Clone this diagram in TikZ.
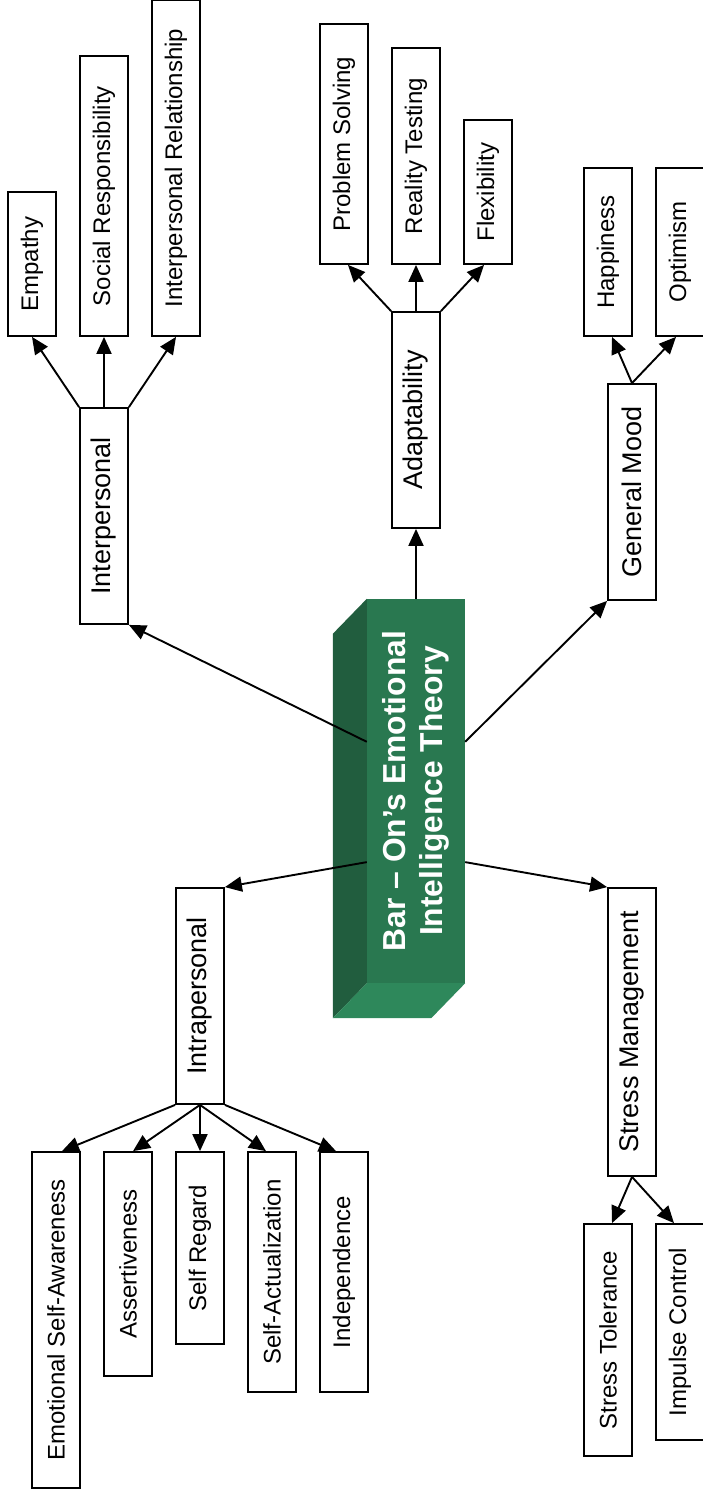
\documentclass[tikz,border=0pt]{standalone}
\usepackage{fontspec}
\setmainfont{Liberation Sans}
\usetikzlibrary{arrows.meta,calc}
\definecolor{facefront}{RGB}{41,120,80}
\definecolor{faceside}{RGB}{33,93,62}
\definecolor{facebottom}{RGB}{46,136,91}
\begin{document}
\begin{tikzpicture}[x=1pt,y=-1pt,
  box/.style={draw, line width=1.8pt, fill=white, minimum width=48pt, inner sep=0pt},
  sub/.style={box, font=\fontsize{24}{28}\selectfont},
  top/.style={box, font=\fontsize{27}{31}\selectfont},
  conn/.style={line width=1.9pt, -{Triangle[length=17pt,width=15pt]}}]
\useasboundingbox (0,0) rectangle (702,1494);

% central block: front face with side and bottom faces
\node[fill=facefront, minimum width=98pt, minimum height=384pt, inner sep=0pt] (front) at (416,791) {};
\fill[faceside] (front.north west) -- ++(-34,35) -- ($(front.south west)+(-34,35)$) -- (front.south west) -- cycle;
\fill[facebottom] (front.south west) -- (front.south east) -- ++(-34,35) -- ($(front.south west)+(-34,35)$) -- cycle;
\node[rotate=90, text=white, align=center, font=\bfseries\fontsize{31.8}{37}\selectfont] (title) at (front.center) {Bar – On’s Emotional\\Intelligence Theory};

\coordinate (fl1) at ($(front.north west)!0.372!(front.south west)$);
\coordinate (fl2) at ($(front.north west)!0.685!(front.south west)$);
\coordinate (fr1) at ($(front.north east)!0.372!(front.south east)$);
\coordinate (fr2) at ($(front.north east)!0.685!(front.south east)$);

% Interpersonal branch
\node[sub, minimum height=144pt] (emp) at (32,264) {\rotatebox{90}{Empathy}};
\node[sub, minimum height=280pt] (soc) at (104,196) {\rotatebox{90}{Social Responsibility}};
\node[sub, minimum height=336pt] (irel) at (176,168) {\rotatebox{90}{Interpersonal Relationship}};
\node[top, minimum height=216pt] (inter) at (104,516) {\rotatebox{90}{Interpersonal}};

% Adaptability branch
\node[sub, minimum height=240pt] (prob) at (344,144) {\rotatebox{90}{Problem Solving}};
\node[sub, minimum height=216pt] (real) at (416,156) {\rotatebox{90}{Reality Testing}};
\node[sub, minimum height=144pt] (flex) at (488,192) {\rotatebox{90}{Flexibility}};
\node[top, minimum height=216pt] (adapt) at (416,420) {\rotatebox{90}{Adaptability}};

% General Mood branch
\node[sub, minimum height=168pt] (happy) at (608,252) {\rotatebox{90}{Happiness}};
\node[sub, minimum height=168pt] (optim) at (680,252) {\rotatebox{90}{Optimism}};
\node[top, minimum height=216pt] (mood) at (632,492) {\rotatebox{90}{General Mood}};

% Intrapersonal branch
\node[top, minimum height=216pt] (intra) at (200,996) {\rotatebox{90}{Intrapersonal}};
\node[sub, minimum height=336pt] (esa) at (56,1320) {\rotatebox{90}{Emotional Self-Awareness}};
\node[sub, minimum height=224pt] (asse) at (128,1264) {\rotatebox{90}{Assertiveness}};
\node[sub, minimum height=192pt] (sreg) at (200,1248) {\rotatebox{90}{Self Regard}};
\node[sub, minimum height=240pt] (sact) at (272,1272) {\rotatebox{90}{Self-Actualization}};
\node[sub, minimum height=240pt] (indep) at (344,1272) {\rotatebox{90}{Independence}};

% Stress Management branch
\node[top, minimum height=288pt] (stress) at (632,1032) {\rotatebox{90}{Stress Management}};
\node[sub, minimum height=232pt] (stol) at (608,1340) {\rotatebox{90}{Stress Tolerance}};
\node[sub, minimum height=216pt] (imp) at (680,1332) {\rotatebox{90}{Impulse Control}};

% connectors from the central block
\draw[conn] (fl1) -- (inter.south east);
\draw[conn] (front.north) -- (adapt.south);
\draw[conn] (fr1) -- (mood.south west);
\draw[conn] (fl2) -- (intra.north east);
\draw[conn] (fr2) -- (stress.north west);

% Interpersonal children
\draw[conn] (inter.north west) -- (emp.south);
\draw[conn] (inter.north) -- (soc.south);
\draw[conn] (inter.north east) -- (irel.south);

% Adaptability children
\draw[conn] (adapt.north west) -- ($(prob.south)+(4,0)$);
\draw[conn] (adapt.north) -- (real.south);
\draw[conn] (adapt.north east) -- ($(flex.south)+(-4,0)$);

% General Mood children
\draw[conn] (mood.north) -- ($(happy.south)+(4,0)$);
\draw[conn] (mood.north) -- ($(optim.south)+(-4,0)$);

% Intrapersonal children
\draw[conn] (intra.south west) -- ($(esa.north)+(6,0)$);
\draw[conn] (intra.south) -- ($(asse.north)+(5,0)$);
\draw[conn] (intra.south) -- (sreg.north);
\draw[conn] (intra.south) -- ($(sact.north)+(-6,0)$);
\draw[conn] (intra.south east) -- ($(indep.north)+(-8,0)$);

% Stress Management children
\draw[conn] (stress.south) -- ($(stol.north)+(4,0)$);
\draw[conn] (stress.south) -- ($(imp.north)+(-6,0)$);
\end{tikzpicture}
\end{document}
